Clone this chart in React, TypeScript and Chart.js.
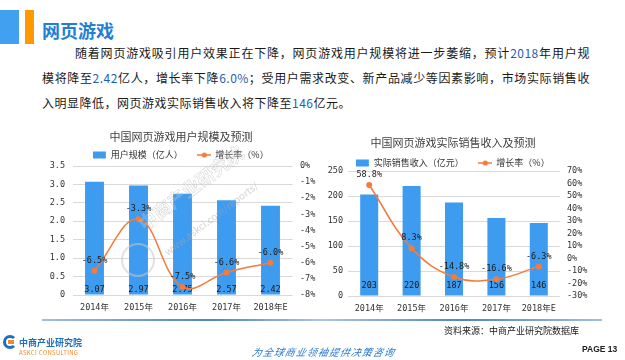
import React, { useEffect, useRef } from "react";
import { Chart, registerables } from "chart.js";

Chart.register(...registerables);

// ---------- data ----------
const years = ["2014年", "2015年", "2016年", "2017年", "2018年E"];
const userScale = [3.07, 2.97, 2.75, 2.57, 2.42];
const userGrowth = [-6.5, -3.3, -7.5, -6.6, -6.0];
const revenue = [203, 220, 187, 156, 146];
const revenueGrowth = [58.8, 8.3, -14.8, -16.6, -6.3];
const userTitle = "中国网页游戏用户规模及预测";
const revTitle = "中国网页游戏实际销售收入及预测";
const userLegend = ["用户规模（亿人）", "增长率（%）"];
const revLegend = ["实际销售收入（亿元）", "增长率（%）"];

const pageTitle = "网页游戏";
const paraLines = [
  "随着网页游戏吸引用户效果正在下降，网页游戏用户规模将进一步萎缩，预计2018年用户规",
  "模将降至2.42亿人，增长率下降6.0%；受用户需求改变、新产品减少等因素影响，市场实际销售收",
  "入明显降低，网页游戏实际销售收入将下降至146亿元。",
];
const sourceText = "资料来源：中商产业研究院数据库";
const sloganText = "为全球商业领袖提供决策咨询";
const pageText = "PAGE 13";

// ---------- style ----------
const BLUE = "#3d9cf0";
const ORANGE = "#f47b3c";
const MONO = '"DejaVu Sans Mono", "Noto Sans CJK SC", monospace';
const CJK = '"Noto Sans CJK SC", sans-serif';
const TICK = "#333333";

function swatch(kind: string) {
  const c = document.createElement("canvas");
  c.width = 14;
  c.height = 8;
  const ctx = c.getContext("2d")!;
  if (kind === "bar") {
    ctx.fillStyle = BLUE;
    ctx.fillRect(0, 0.5, 13, 7);
  } else {
    ctx.strokeStyle = ORANGE;
    ctx.lineWidth = 1.5;
    ctx.beginPath();
    ctx.moveTo(0, 4);
    ctx.lineTo(14, 4);
    ctx.stroke();
    ctx.fillStyle = ORANGE;
    ctx.beginPath();
    ctx.arc(7, 4, 2.6, 0, Math.PI * 2);
    ctx.fill();
  }
  return c;
}

const legendShrink = {
  id: "legendShrink",
  afterInit(chart: any, _a: any, opts: any) {
    const lg = chart.legend;
    if (!lg) return;
    const orig = lg.fit.bind(lg);
    lg.fit = function () {
      orig();
      lg.height = Math.max(0, lg.height - (opts.shrink || 0));
    };
  },
};

const valueLabels = {
  id: "valueLabels",
  afterDatasetDraw(chart: any, args: any, opts: any) {
    const ds = chart.data.datasets[args.index];
    const ctx = chart.ctx;
    ctx.save();
    ctx.font = `8.5px ${MONO}`;
    ctx.fillStyle = "#1a1a1a";
    ctx.textAlign = "center";
    ctx.textBaseline = "middle";
    args.meta.data.forEach((el: any, i: number) => {
      const v = ds.data[i];
      if (ds.type === "bar") {
        ctx.fillText(opts.barFmt(v), el.x, el.base - opts.barOffset);
      } else {
        ctx.fillText(v.toFixed(1) + "%", el.x, el.y - 10);
      }
    });
    ctx.restore();
  },
};

function makeConfig(p: {
  labels: string[];
  bars: number[];
  line: number[];
  title: string;
  legend: string[];
  yMax: number;
  yStep: number;
  y1Min: number;
  y1Max: number;
  y1Step: number;
  yWidth: number;
  y1Width: number;
  yPad: number;
  y1Pad: number;
  titleTop: number;
  titleBottom: number;
  shrink: number;
  barOffset: number;
  barFmt: (v: number) => string;
  barPct: number;
}): any {
  const barImg = swatch("bar");
  const lineImg = swatch("line");
  const tickFont = { family: MONO, size: 8.5 };
  return {
    type: "bar",
    data: {
      labels: p.labels,
      datasets: [
        {
          type: "bar",
          data: p.bars,
          backgroundColor: BLUE,
          yAxisID: "y",
          order: 2,
          barPercentage: p.barPct,
          categoryPercentage: 1,
        },
        {
          type: "line",
          data: p.line,
          borderColor: ORANGE,
          backgroundColor: ORANGE,
          borderWidth: 1.5,
          pointRadius: 3,
          pointBorderWidth: 0,
          pointBackgroundColor: ORANGE,
          tension: 0.4,
          yAxisID: "y1",
          order: 1,
        },
      ],
    },
    options: {
      responsive: false,
      animation: false,
      layout: { padding: 0 },
      plugins: {
        title: {
          display: true,
          text: p.title,
          color: "#404040",
          font: { family: CJK, size: 11, weight: "normal" },
          padding: { top: p.titleTop, bottom: p.titleBottom },
        },
        legend: {
          display: true,
          labels: {
            usePointStyle: true,
            pointStyleWidth: 13,
            padding: 15,
            color: TICK,
            font: { family: CJK, size: 9 },
            generateLabels: () => [
              { text: p.legend[0], pointStyle: barImg, fillStyle: BLUE, strokeStyle: BLUE, lineWidth: 0, hidden: false, datasetIndex: 0, fontColor: TICK },
              { text: p.legend[1], pointStyle: lineImg, fillStyle: ORANGE, strokeStyle: ORANGE, lineWidth: 0, hidden: false, datasetIndex: 1, fontColor: TICK },
            ],
          },
        },
        tooltip: { enabled: false },
        legendShrink: { shrink: p.shrink },
        valueLabels: { barOffset: p.barOffset, barFmt: p.barFmt },
      },
      scales: {
        x: {
          grid: { display: false, drawTicks: false },
          border: { display: false },
          ticks: { font: tickFont, color: TICK, padding: 8, maxRotation: 0, autoSkip: false },
          afterFit: (s: any) => {
            s.height = 24;
          },
        },
        y: {
          position: "left",
          min: 0,
          max: p.yMax,
          grid: { color: "#d9d9d9", drawTicks: false },
          border: { display: false },
          ticks: { stepSize: p.yStep, font: tickFont, color: TICK, padding: p.yPad, autoSkip: false },
          afterFit: (s: any) => {
            s.width = p.yWidth;
          },
        },
        y1: {
          position: "right",
          min: p.y1Min,
          max: p.y1Max,
          grid: { display: false, drawTicks: false },
          border: { display: false },
          ticks: {
            stepSize: p.y1Step,
            font: tickFont,
            color: TICK,
            padding: p.y1Pad,
            autoSkip: false,
            callback: (v: any) => v + "%",
          },
          afterFit: (s: any) => {
            s.width = p.y1Width;
          },
        },
      },
    },
    plugins: [legendShrink, valueLabels],
  };
}

function ChartBox(props: { cfg: () => any; style: React.CSSProperties; w: number; h: number }) {
  const ref = useRef<HTMLCanvasElement>(null);
  useEffect(() => {
    const chart = new Chart(ref.current!, props.cfg());
    return () => chart.destroy();
  }, []);
  return <canvas ref={ref} width={props.w} height={props.h} style={{ position: "absolute", width: props.w, height: props.h, ...props.style }} />;
}

function Para({ text }: { text: string }) {
  const parts = text.split(/(\d[\d.%]*)/);
  return (
    <>
      {parts.map((t, i) =>
        /^\d/.test(t) ? (
          <span key={i} style={{ color: "#1d5fb0" }}>
            {t}
          </span>
        ) : (
          <span key={i}>{t}</span>
        )
      )}
    </>
  );
}

export default function App() {
  const abs = (s: React.CSSProperties): React.CSSProperties => ({ position: "absolute", whiteSpace: "nowrap", ...s });
  return (
    <div
      style={{
        position: "fixed",
        left: 0,
        top: 0,
        width: 625,
        height: 360,
        overflow: "hidden",
        background: "#ffffff",
        fontFamily: CJK,
        color: "#222",
      }}
    >
      {/* header */}
      <div style={abs({ left: 0, top: 10, width: 19, height: 34, background: "#42a0f0" })} />
      <div style={abs({ left: 25, top: 10, width: 9, height: 34, background: "#ff9900" })} />
      <div style={abs({ left: 42, top: 17, height: 26, lineHeight: "26px", fontSize: 18, fontWeight: 700, color: "#1f7fd6" })}>
        {pageTitle}
      </div>
      {paraLines.map((l, i) => (
        <div
          key={i}
          style={abs({
            left: i === 0 ? 75 : 42,
            top: 43 + i * 25,
            width: i === 0 ? 515 : 548,
            height: 20,
            lineHeight: "20px",
            fontSize: 12,
            letterSpacing: 0.5,
            textAlign: "justify",
            textAlignLast: i < 2 ? "justify" : "left",
            color: "#1a1a1a",
          })}
        >
          <Para text={l} />
        </div>
      ))}

      {/* charts */}
      <ChartBox
        w={282}
        h={194}
        style={{ left: 40, top: 125 }}
        cfg={() =>
          makeConfig({
            labels: years,
            bars: userScale,
            line: userGrowth,
            title: userTitle,
            legend: userLegend,
            yMax: 3.5,
            yStep: 0.5,
            y1Min: -8,
            y1Max: 0,
            y1Step: 1,
            yWidth: 32.5,
            y1Width: 29.5,
            yPad: 7.5,
            y1Pad: 7.5,
            titleTop: 5.4,
            titleBottom: -8.1,
            shrink: 3.5,
            barOffset: 5,
            barFmt: (v) => v.toFixed(2),
            barPct: 0.43,
          })
        }
      />
      <ChartBox
        w={274}
        h={190}
        style={{ left: 316, top: 130 }}
        cfg={() =>
          makeConfig({
            labels: years,
            bars: revenue,
            line: revenueGrowth,
            title: revTitle,
            legend: revLegend,
            yMax: 250,
            yStep: 50,
            y1Min: -30,
            y1Max: 70,
            y1Step: 10,
            yWidth: 32,
            y1Width: 30,
            yPad: 5,
            y1Pad: 7,
            titleTop: 6.4,
            titleBottom: -6.1,
            shrink: 6.5,
            barOffset: 9.5,
            barFmt: (v) => String(Math.round(v)),
            barPct: 0.425,
          })
        }
      />

      {/* watermark */}
      <div
        style={abs({
          left: 121,
          top: 243,
          width: 34,
          height: 34,
          borderRadius: "50%",
          border: "2px solid rgba(200,200,200,0.55)",
          boxSizing: "border-box",
          pointerEvents: "none",
        })}
      />
      <div
        style={abs({
          left: 140,
          top: 212,
          fontSize: 18,
          fontWeight: 700,
          color: "rgba(255,255,255,0.18)",
          WebkitTextStroke: "0.6px rgba(170,170,170,0.45)",
          transform: "rotate(-37deg)",
          transformOrigin: "left center",
          pointerEvents: "none",
        } as any)}
      >
        中商产业研究院
      </div>
      <div
        style={abs({
          left: 165,
          top: 245,
          fontSize: 10,
          color: "rgba(170,170,170,0.5)",
          transform: "rotate(-37deg)",
          transformOrigin: "left center",
          pointerEvents: "none",
        })}
      >
        www.askci.com/reports/
      </div>

      {/* footer */}
      <div
        style={abs({
          left: 42,
          top: 319,
          width: 560,
          height: 2,
          background: "linear-gradient(90deg, #9fbfe0 0%, #4f86c0 30%, #a9c6e6 50%, #4f86c0 75%, #9fbfe0 100%)",
        })}
      />
      <div style={abs({ left: 444, top: 324, height: 14, lineHeight: "14px", fontSize: 9, color: "#1a1a1a" })}>{sourceText}</div>
      <div
        style={abs({
          left: 3,
          top: 335,
          width: 14,
          height: 14,
          borderRadius: "50%",
          border: "3px solid #1f6fc0",
          borderRightColor: "transparent",
          boxSizing: "border-box",
        })}
      />
      <div style={abs({ left: 8, top: 340, width: 6, height: 4, background: "#f08a2a" })} />
      <div style={abs({ left: 19, top: 336, height: 13, lineHeight: "13px", fontSize: 9, fontWeight: 700, color: "#1f6fc0", letterSpacing: 0 })}>
        中商产业研究院
      </div>
      <div style={abs({ left: 19, top: 349, height: 8, lineHeight: "8px", fontSize: 6, color: "#f08a2a", letterSpacing: 0.3 })}>
        ASKCI CONSULTING
      </div>
      <div
        style={abs({
          left: 252,
          top: 345,
          height: 14,
          lineHeight: "14px",
          fontSize: 10,
          fontStyle: "italic",
          color: "#2a7ad0",
          letterSpacing: 1,
          transform: "skewX(-12deg)",
        })}
      >
        {sloganText}
      </div>
      <div style={abs({ left: 582, top: 343, height: 12, lineHeight: "12px", fontSize: 8.5, fontWeight: 700, color: "#222", fontFamily: "Arial, Liberation Sans, sans-serif" })}>
        {pageText}
      </div>
    </div>
  );
}
